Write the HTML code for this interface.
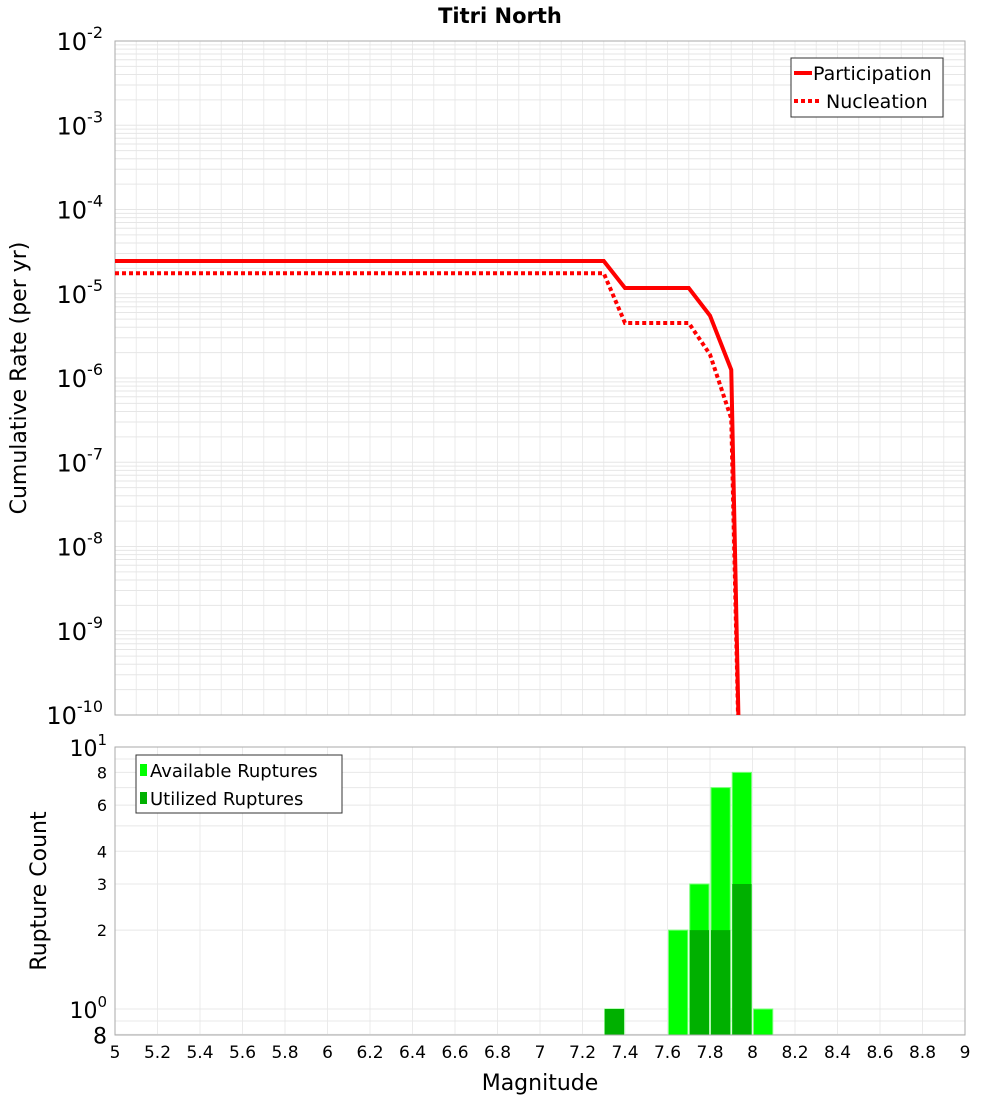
<!DOCTYPE html>
<html><head><meta charset="utf-8"><style>
body{margin:0;background:#fff;font-family:"Liberation Sans","DejaVu Sans",sans-serif}
</style></head><body>
<svg id="c" width="1000" height="1100" xmlns="http://www.w3.org/2000/svg" font-family="DejaVu Sans, Liberation Sans, sans-serif">
<text x="500" y="23" text-anchor="middle" font-size="21" font-weight="bold">Titri North</text>
<g id="topg"></g><g id="botg"></g>
</svg>
<script>
const partMags=[5,7.3,7.4,7.7,7.8,7.9,7.95];
const partRates=[2.45e-5,2.45e-5,1.17e-5,1.17e-5,5.5e-6,1.25e-6,1e-12];
const nuclMags=[5,7.3,7.4,7.7,7.8,7.9,7.95];
const nuclRates=[1.75e-5,1.75e-5,4.5e-6,4.5e-6,1.9e-6,3.3e-7,1e-12];
const binMags=[7.3,7.6,7.7,7.8,7.9,8.0];
const availCounts=[1,2,3,7,8,1];
const usedCounts=[1,0,2,2,3,0];
const xTicks=[5,5.2,5.4,5.6,5.8,6,6.2,6.4,6.6,6.8,7,7.2,7.4,7.6,7.8,8,8.2,8.4,8.6,8.8,9];
const botTicks=[0.8,1,2,3,4,6,8,10];
const botTickLabels=["8","10^0","2","3","4","6","8","10^1"];

const NS="http://www.w3.org/2000/svg";
function el(t,a,p){const e=document.createElementNS(NS,t);for(const k in a)e.setAttribute(k,a[k]);p.appendChild(e);return e;}
const X0=115,X1=965;
const xS=m=>X0+(m-5)/4*(X1-X0);
const T0=41,T1=715;
const yT=v=>T0+(-2-Math.log10(v))/8*(T1-T0);
const B0=747,B1=1035;
const yB=v=>B0+(1-Math.log10(v))*262;
const gTop=document.getElementById('topg'),gBot=document.getElementById('botg');

for(let m=5;m<=9.001;m+=0.1){const l=el('line',{x1:xS(m),x2:xS(m),y1:T0,y2:T1,stroke:'#ebebeb','stroke-width':1},gTop);}
for(let e=-10;e<-2;e++)for(let k=1;k<10;k++){const y=yT(k*Math.pow(10,e));const l=el('line',{x1:X0,x2:X1,y1:y,y2:y,stroke:'#e6e6e6','stroke-width':1},gTop);}
const fr=el('rect',{x:X0,y:T0,width:X1-X0,height:T1-T0,fill:'none',stroke:'#aaa'},gTop);

for(let e=-10;e<=-2;e++){const t=el('text',{x:103,y:yT(Math.pow(10,e))+9,'text-anchor':'end','font-size':24},gTop);

t.textContent='10';const sp=el('tspan',{dy:-12,'font-size':16},t);sp.textContent=String(e);}
const yl=el('text',{x:26,y:378,transform:'rotate(-90 26 378)','text-anchor':'middle','font-size':22},gTop);
yl.textContent='Cumulative Rate (per yr)';
const cp=el('clipPath',{id:'cl'},gTop);el('rect',{x:X0,y:T0,width:X1-X0,height:T1-T0},cp);
function drawLine(ms,vs,dash,name){const d=ms.map((m,i)=>(i?'L':'M')+xS(m)+','+yT(vs[i])).join(' ');
const p=el('path',{d:d,fill:'none',stroke:'#f00','stroke-width':4,'clip-path':'url(#cl)','stroke-dasharray':dash},gTop);
}
drawLine(partMags,partRates,'none','participation-line');
drawLine(nuclMags,nuclRates,'4,3','nucleation-line');
const lg=el('g',{},gTop);
el('rect',{x:791,y:58,width:152,height:59,fill:'#fff',stroke:'#333'},lg);
el('line',{x1:794,x2:812,y1:73,y2:73,stroke:'#f00','stroke-width':4},lg);
el('line',{x1:794,x2:822,y1:101,y2:101,stroke:'#f00','stroke-width':4,'stroke-dasharray':'4,3'},lg);
let t=el('text',{x:813,y:80,'font-size':19},lg);t.textContent='Participation';
t=el('text',{x:826,y:108,'font-size':19},lg);t.textContent='Nucleation';

for(let m=5;m<=9.001;m+=0.2){const l=el('line',{x1:xS(m),x2:xS(m),y1:B0,y2:B1,stroke:'#ebebeb'},gBot);}
[0.8,0.9,1,2,3,4,5,6,7,8,9].forEach(v=>{const l=el('line',{x1:X0,x2:X1,y1:yB(v),y2:yB(v),stroke:'#e8e8e8'},gBot);});
binMags.forEach((m,i)=>{
 if(availCounts[i]>0){const r=el('rect',{x:xS(m)+1,y:yB(availCounts[i]),width:xS(m+0.1)-xS(m)-2,height:B1-yB(availCounts[i]),fill:'#00ff00',stroke:'#7f7','stroke-width':1},gBot);}
 if(usedCounts[i]>0){const r=el('rect',{x:xS(m)+1,y:yB(usedCounts[i]),width:xS(m+0.1)-xS(m)-2,height:B1-yB(usedCounts[i]),fill:'#00b000'},gBot);}
});
const fb=el('rect',{x:X0,y:B0,width:X1-X0,height:B1-B0,fill:'none',stroke:'#aaa'},gBot);

botTicks.forEach((v,i)=>{const s=botTickLabels[i];const big=s.indexOf('^')>0||v===0.8;
 const tt=el('text',{x:107,y:yB(v)+(big?9:6),'text-anchor':'end','font-size':big?22:16},gBot);
 
 if(s.indexOf('^')>0){const pr=s.split('^');tt.textContent=pr[0];const sp=el('tspan',{dy:-11,'font-size':15},tt);sp.textContent=pr[1];}else tt.textContent=s;});
const bl=el('text',{x:46,y:891,transform:'rotate(-90 46 891)','text-anchor':'middle','font-size':22},gBot);
bl.textContent='Rupture Count';
xTicks.forEach(m=>{const tt=el('text',{x:xS(m),y:1058,'text-anchor':'middle','font-size':17},gBot);tt.textContent=String(m);
 });
const xl=el('text',{x:540,y:1090,'text-anchor':'middle','font-size':22},gBot);xl.textContent='Magnitude';

const lg2=el('g',{},gBot);
el('rect',{x:136,y:755,width:206,height:58,fill:'#fff',stroke:'#333'},lg2);
el('rect',{x:140,y:764,width:7,height:12,fill:'#00ff00'},lg2);
el('rect',{x:140,y:792,width:7,height:12,fill:'#00b000'},lg2);
t=el('text',{x:150,y:777,'font-size':18},lg2);t.textContent='Available Ruptures';
t=el('text',{x:150,y:805,'font-size':18},lg2);t.textContent='Utilized Ruptures';
</script>
</body></html>
